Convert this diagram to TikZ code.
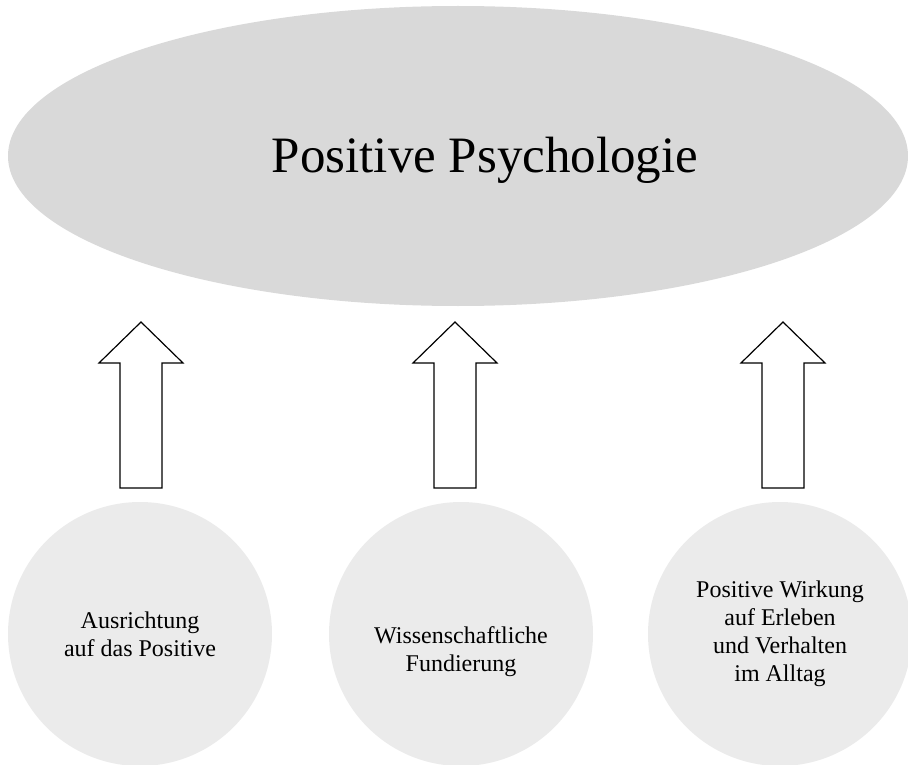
\documentclass[tikz,border=0pt]{standalone}
\usepackage{fontspec}
\setmainfont{Liberation Serif}
\usetikzlibrary{shapes.geometric}
\definecolor{ellgray}{HTML}{D9D9D9}
\definecolor{circgray}{HTML}{EBEBEB}
\tikzset{
  topic/.style={ellipse, fill=ellgray, minimum width=900pt, minimum height=300pt, inner sep=0pt},
  pillar/.style={circle, fill=circgray, minimum size=264pt, inner sep=0pt, align=center, font=\fontsize{24}{28}\selectfont},
  uparrow/.style={draw=black, line width=1.2pt, fill=white, line join=miter}
}
\begin{document}
\begin{tikzpicture}[x=1pt, y=-1pt]
    \useasboundingbox (0,0) rectangle (908,765);
    % Ellipse
    \node[topic] (psy) at (458,156) {};
    \node[anchor=base, font=\fontsize{51}{60}\selectfont] (title) at (485,172) {Positive Psychologie};

    % Circles
    \node[pillar] (c1) at (140,634) {Ausrichtung\\auf das Positive};
    \node[pillar] (c2) at (461,634) {\strut\\Wissenschaftliche\\Fundierung\\[-28pt]};
    \node[pillar] (c3) at (780,634) {Positive Wirkung\\auf Erleben\\und Verhalten\\im Alltag};

    % Arrows
    \foreach \x in {141,455,783}
    \draw[uparrow] (\x,322) -- ++(42,41) -- ++(-21,0) -- ++(0,125) -- ++(-42,0) -- ++(0,-125) -- ++(-21,0) -- cycle;
\end{tikzpicture}
\end{document}
